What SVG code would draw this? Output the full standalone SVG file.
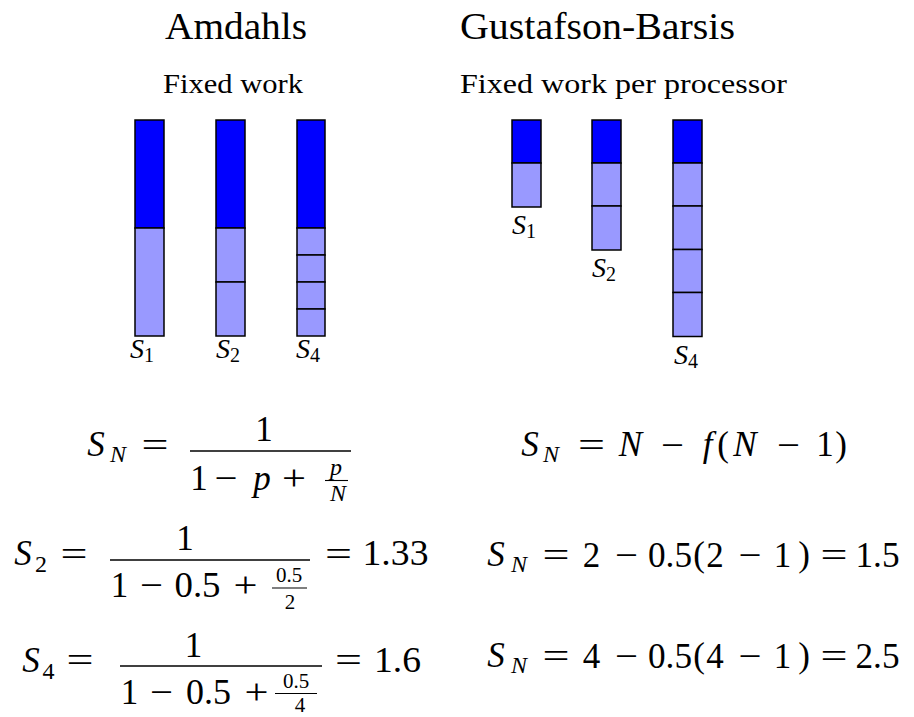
<svg xmlns="http://www.w3.org/2000/svg" width="914" height="717" viewBox="0 0 914 717">
<style>
text{font-family:"Liberation Serif","DejaVu Serif",serif;fill:#000}
.title{font-size:37px}
.sub{font-size:28px}
.m{font-size:35px;text-anchor:middle}
.i{font-style:italic}
.s{font-size:24px;text-anchor:middle}
.ss{font-size:21px;text-anchor:middle}
.lbl{font-size:28px;font-style:italic}
.lsub{font-size:20px;font-style:normal}
.dark{fill:#0000ff;stroke:#000;stroke-width:1.5}
.light{fill:#9999ff;stroke:#000;stroke-width:1.5}
.bar{stroke:#000;stroke-width:1.6}
.sbar{stroke:#000;stroke-width:1.1}
</style>
<rect width="914" height="717" fill="#fff"/>

<g id="headings">
<text class="title" x="165" y="39" textLength="142" lengthAdjust="spacingAndGlyphs">Amdahls</text>
<text class="title" x="460" y="39" textLength="275" lengthAdjust="spacingAndGlyphs">Gustafson-Barsis</text>
<text class="sub" x="163" y="93" textLength="140" lengthAdjust="spacingAndGlyphs">Fixed work</text>
<text class="sub" x="460" y="93" textLength="327" lengthAdjust="spacingAndGlyphs">Fixed work per processor</text>
</g>

<g id="amdahl-s1">
<rect class="dark" x="135" y="120" width="29" height="108"/>
<rect class="light" x="135" y="228" width="29" height="108"/>
<text class="lbl" x="130" y="358">S<tspan class="lsub" dy="4">1</tspan></text>
</g>
<g id="amdahl-s2">
<rect class="dark" x="216" y="120" width="29" height="108"/>
<rect class="light" x="216" y="228" width="29" height="54"/>
<rect class="light" x="216" y="282" width="29" height="54"/>
<text class="lbl" x="216" y="358">S<tspan class="lsub" dy="4">2</tspan></text>
</g>
<g id="amdahl-s4">
<rect class="dark" x="297" y="120" width="28" height="108"/>
<rect class="light" x="297" y="228" width="28" height="27"/>
<rect class="light" x="297" y="255" width="28" height="27"/>
<rect class="light" x="297" y="282" width="28" height="27"/>
<rect class="light" x="297" y="309" width="28" height="27"/>
<text class="lbl" x="296" y="358">S<tspan class="lsub" dy="4">4</tspan></text>
</g>

<g id="gustafson-s1">
<rect class="dark" x="512" y="120" width="29" height="43"/>
<rect class="light" x="512" y="163" width="29" height="44"/>
<text class="lbl" x="512" y="234">S<tspan class="lsub" dy="4">1</tspan></text>
</g>
<g id="gustafson-s2">
<rect class="dark" x="592" y="120" width="29" height="43"/>
<rect class="light" x="592" y="163" width="29" height="43"/>
<rect class="light" x="592" y="206" width="29" height="44"/>
<text class="lbl" x="592" y="277">S<tspan class="lsub" dy="4">2</tspan></text>
</g>
<g id="gustafson-s4">
<rect class="dark" x="673" y="120" width="29" height="43"/>
<rect class="light" x="673" y="163" width="29" height="43"/>
<rect class="light" x="673" y="206" width="29" height="43.5"/>
<rect class="light" x="673" y="249.5" width="29" height="43"/>
<rect class="light" x="673" y="292.5" width="29" height="44"/>
<text class="lbl" x="674" y="364">S<tspan class="lsub" dy="4">4</tspan></text>
</g>

<g id="amdahl-formula">
<text class="m i" x="96" y="456">S</text>
<text class="s i" x="118" y="462">N</text>
<text class="m" x="155" y="457" textLength="27" lengthAdjust="spacingAndGlyphs">=</text>
<line class="bar" x1="190" y1="451" x2="351" y2="451"/>
<text class="m" x="264" y="441">1</text>
<text class="m" x="199" y="490">1</text>
<text class="m" x="226" y="490" textLength="23" lengthAdjust="spacingAndGlyphs">−</text>
<text class="m i" x="262" y="490">p</text>
<text class="m" x="294" y="490" textLength="24" lengthAdjust="spacingAndGlyphs">+</text>
<text class="s i" x="336" y="475">p</text>
<line class="sbar" x1="325" y1="480.5" x2="348" y2="480.5"/>
<text class="s i" x="338" y="501">N</text>
</g>

<g id="amdahl-s2-calc">
<text class="m i" x="23" y="565">S</text>
<text class="s" x="41" y="572">2</text>
<text class="m" x="74" y="566" textLength="27" lengthAdjust="spacingAndGlyphs">=</text>
<line class="bar" x1="110" y1="560" x2="310" y2="560"/>
<text class="m" x="185" y="550">1</text>
<text class="m" x="119.5" y="597">1</text>
<text class="m" x="151.5" y="597" textLength="23" lengthAdjust="spacingAndGlyphs">−</text>
<text class="m" x="197.5" y="597" textLength="46" lengthAdjust="spacingAndGlyphs">0.5</text>
<text class="m" x="245.5" y="597" textLength="24" lengthAdjust="spacingAndGlyphs">+</text>
<text class="ss" x="289" y="582">0.5</text>
<line class="sbar" x1="272" y1="588" x2="307" y2="588"/>
<text class="ss" x="290" y="609">2</text>
<text class="m" x="338.5" y="566" textLength="27" lengthAdjust="spacingAndGlyphs">=</text>
<text class="m" x="395.5" y="565" textLength="66" lengthAdjust="spacingAndGlyphs">1.33</text>
</g>

<g id="amdahl-s4-calc">
<text class="m i" x="31" y="672">S</text>
<text class="s" x="48.5" y="679">4</text>
<text class="m" x="80" y="672" textLength="27" lengthAdjust="spacingAndGlyphs">=</text>
<line class="bar" x1="120" y1="666" x2="322" y2="666"/>
<text class="m" x="193.5" y="657">1</text>
<text class="m" x="129.5" y="704">1</text>
<text class="m" x="161.5" y="704" textLength="23" lengthAdjust="spacingAndGlyphs">−</text>
<text class="m" x="208.5" y="704" textLength="45" lengthAdjust="spacingAndGlyphs">0.5</text>
<text class="m" x="256.5" y="704" textLength="24" lengthAdjust="spacingAndGlyphs">+</text>
<text class="ss" x="296" y="688">0.5</text>
<line class="sbar" x1="275" y1="693.5" x2="317" y2="693.5"/>
<text class="ss" x="300" y="712">4</text>
<text class="m" x="348.5" y="672" textLength="27" lengthAdjust="spacingAndGlyphs">=</text>
<text class="m" x="397.5" y="672" textLength="47" lengthAdjust="spacingAndGlyphs">1.6</text>
</g>

<g id="gustafson-formula">
<text class="m i" x="530" y="456">S</text>
<text class="s i" x="551" y="462">N</text>
<text class="m" x="591.5" y="457" textLength="27" lengthAdjust="spacingAndGlyphs">=</text>
<text class="m i" x="630.5" y="456">N</text>
<text class="m" x="672.5" y="457" textLength="23" lengthAdjust="spacingAndGlyphs">−</text>
<text class="m i" x="707.5" y="456">f</text>
<text class="m" x="723" y="456">(</text>
<text class="m i" x="745" y="456">N</text>
<text class="m" x="788.5" y="457" textLength="23" lengthAdjust="spacingAndGlyphs">−</text>
<text class="m" x="825" y="456">1</text>
<text class="m" x="841" y="456">)</text>
</g>

<g id="gustafson-s2-calc">
<text class="m i" x="496" y="566">S</text>
<text class="s i" x="519" y="572">N</text>
<text class="m" x="556" y="567" textLength="27" lengthAdjust="spacingAndGlyphs">=</text>
<text class="m" x="591.5" y="567">2</text>
<text class="m" x="626.5" y="567" textLength="23" lengthAdjust="spacingAndGlyphs">−</text>
<text class="m" x="670" y="567" textLength="44" lengthAdjust="spacingAndGlyphs">0.5</text>
<text class="m" x="699" y="566">(</text>
<text class="m" x="715" y="567">2</text>
<text class="m" x="750" y="567" textLength="23" lengthAdjust="spacingAndGlyphs">−</text>
<text class="m" x="782.5" y="567">1</text>
<text class="m" x="804" y="566">)</text>
<text class="m" x="834" y="567" textLength="27" lengthAdjust="spacingAndGlyphs">=</text>
<text class="m" x="877.5" y="567" textLength="44" lengthAdjust="spacingAndGlyphs">1.5</text>
</g>

<g id="gustafson-s4-calc">
<text class="m i" x="496" y="667">S</text>
<text class="s i" x="519" y="673">N</text>
<text class="m" x="556" y="668" textLength="27" lengthAdjust="spacingAndGlyphs">=</text>
<text class="m" x="591.5" y="668">4</text>
<text class="m" x="626.5" y="668" textLength="23" lengthAdjust="spacingAndGlyphs">−</text>
<text class="m" x="670" y="668" textLength="44" lengthAdjust="spacingAndGlyphs">0.5</text>
<text class="m" x="699" y="667">(</text>
<text class="m" x="715" y="668">4</text>
<text class="m" x="750" y="668" textLength="23" lengthAdjust="spacingAndGlyphs">−</text>
<text class="m" x="782.5" y="668">1</text>
<text class="m" x="804" y="667">)</text>
<text class="m" x="834" y="668" textLength="27" lengthAdjust="spacingAndGlyphs">=</text>
<text class="m" x="877.5" y="668" textLength="44" lengthAdjust="spacingAndGlyphs">2.5</text>
</g>
</svg>
